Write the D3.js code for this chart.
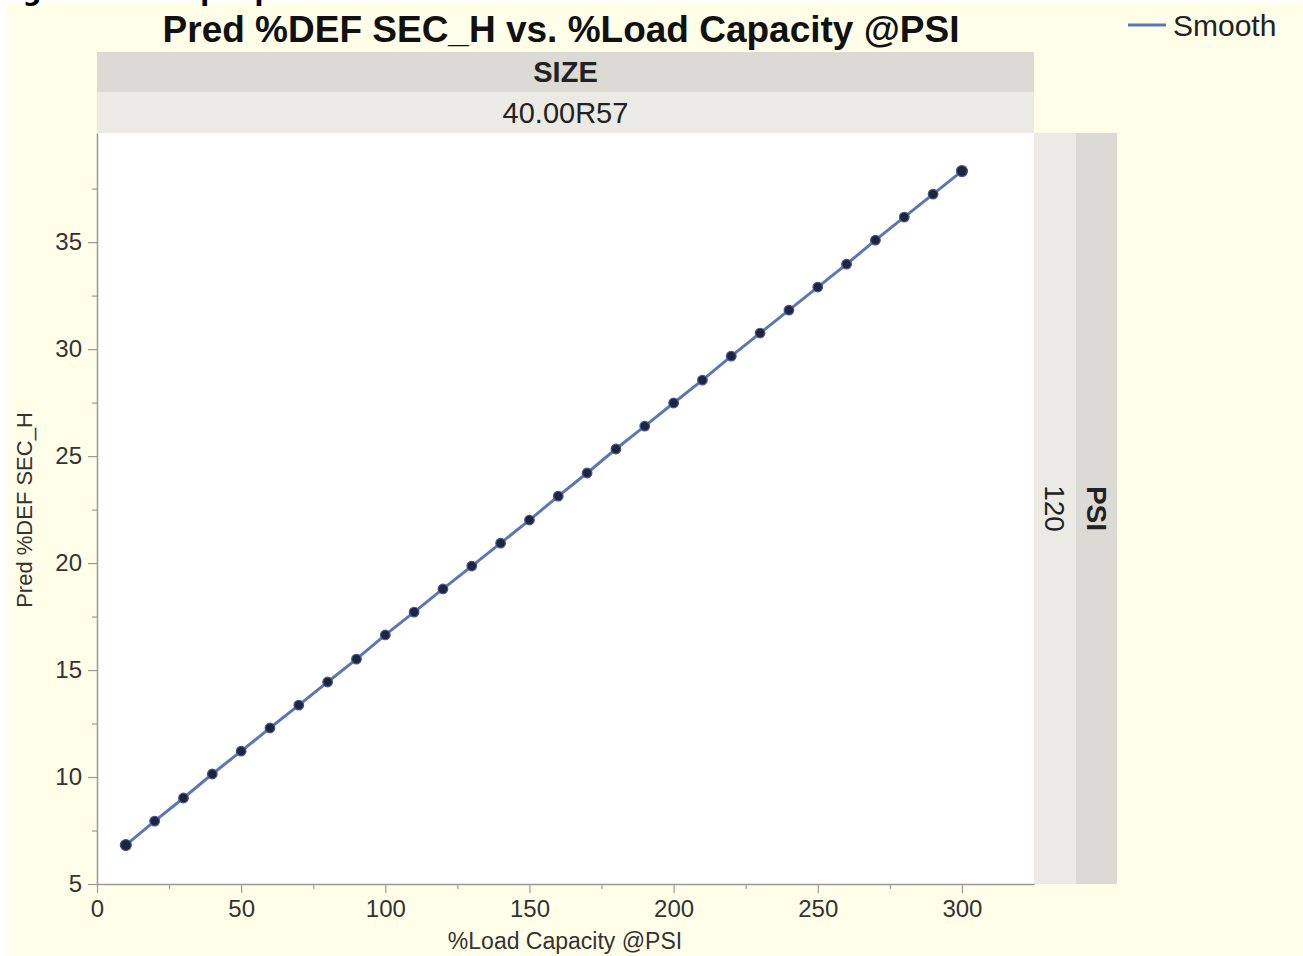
<!DOCTYPE html>
<html>
<head>
<meta charset="utf-8">
<script src="https://cdn.jsdelivr.net/npm/d3@7"></script>
<style>
  html, body { margin: 0; padding: 0; background: #ffffff; }
  svg { display: block; font-family: "Liberation Sans", Arial, sans-serif; }
</style>
</head>
<body>
<svg id="chart" width="1303" height="956"></svg>
<script>
// Predicted %DEF SEC_H at each %Load Capacity step (SIZE 40.00R57, PSI 120)
const loadCapacity = [10, 20, 30, 40, 50, 60, 70, 80, 90, 100, 110, 120, 130, 140, 150,
                      160, 170, 180, 190, 200, 210, 220, 230, 240, 250, 260, 270, 280, 290, 300];
const predDef = [6.82, 7.94, 9.02, 10.14, 11.21, 12.29, 13.36, 14.44, 15.51, 16.64,
                 17.71, 18.79, 19.86, 20.93, 22.01, 23.13, 24.21, 25.33, 26.40, 27.48,
                 28.55, 29.67, 30.75, 31.82, 32.90, 33.97, 35.09, 36.17, 37.24, 38.32];
const xTicks = [0, 50, 100, 150, 200, 250, 300];
const yTicks = [5, 10, 15, 20, 25, 30, 35];
const sizeLevel = "40.00R57";
const psiLevel = "120";

const svg = d3.select("#chart");

// page background
svg.append("rect").attr("x", 0).attr("y", 0).attr("width", 1303).attr("height", 956).attr("fill", "#ffffff");
svg.append("rect").attr("x", 7).attr("y", 4).attr("width", 1296).attr("height", 952).attr("fill", "#fffee8");

// caption line above, only its lower edge inside the frame
svg.append("text").attr("x", -4).attr("y", 0)
  .attr("font-size", 26).attr("font-weight", "bold").attr("fill", "#000")
  .attr("font-family", "'DejaVu Sans', sans-serif")
  .text("Figure 3: Sample plot");

const plot = { left: 97, right: 1034, top: 133, bottom: 884 };

const x = d3.scaleLinear().domain([0, 325]).range([plot.left, plot.right]);
const y = d3.scaleLinear().domain([5, 40.1]).range([plot.bottom, plot.top]);

// plot frame
svg.append("rect")
  .attr("x", plot.left).attr("y", plot.top)
  .attr("width", plot.right - plot.left).attr("height", plot.bottom - plot.top)
  .attr("fill", "#ffffff");

// title
svg.append("text")
  .attr("x", 561).attr("y", 42)
  .attr("text-anchor", "middle")
  .attr("font-size", 37).attr("font-weight", "bold").attr("fill", "#111")
  .text("Pred %DEF SEC_H vs. %Load Capacity @PSI");

// top strips (SIZE)
svg.append("rect").attr("x", plot.left).attr("y", 52).attr("width", plot.right - plot.left).attr("height", 40).attr("fill", "#dcdad4");
svg.append("rect").attr("x", plot.left).attr("y", 92).attr("width", plot.right - plot.left).attr("height", 41).attr("fill", "#ebeae5");
svg.append("text").attr("x", (plot.left + plot.right) / 2).attr("y", 82)
  .attr("text-anchor", "middle").attr("font-size", 29).attr("font-weight", "bold").attr("fill", "#222")
  .text("SIZE");
svg.append("text").attr("x", (plot.left + plot.right) / 2).attr("y", 123)
  .attr("text-anchor", "middle").attr("font-size", 29).attr("fill", "#222")
  .text(sizeLevel);

// right strips (PSI)
svg.append("rect").attr("x", plot.right).attr("y", plot.top).attr("width", 42).attr("height", plot.bottom - plot.top).attr("fill", "#ebeae5");
svg.append("rect").attr("x", plot.right + 42).attr("y", plot.top).attr("width", 41).attr("height", plot.bottom - plot.top).attr("fill", "#dcdad4");
const midY = (plot.top + plot.bottom) / 2;
svg.append("text")
  .attr("transform", `translate(${plot.right + 11},${midY}) rotate(90)`)
  .attr("text-anchor", "middle").attr("font-size", 28).attr("fill", "#222")
  .text(psiLevel);
svg.append("text")
  .attr("transform", `translate(${plot.right + 53},${midY}) rotate(90)`)
  .attr("text-anchor", "middle").attr("font-size", 28).attr("font-weight", "bold").attr("fill", "#222")
  .text("PSI");

// axes
const axisColor = "#9a9a9a";
const xMinor = d3.range(25, 325, 50);
const yMinor = d3.range(7.5, 40, 5);

const gx = svg.append("g").attr("transform", `translate(0,${plot.bottom})`);
gx.call(d3.axisBottom(x).tickValues(xTicks).tickSize(9).tickSizeOuter(0).tickPadding(7));
gx.append("g").call(d3.axisBottom(x).tickValues(xMinor).tickSize(5).tickFormat(""));
gx.selectAll("path.domain").attr("stroke", axisColor).attr("stroke-width", 1.5);
gx.selectAll("line").attr("stroke", axisColor).attr("stroke-width", 1.2);
gx.selectAll("text").attr("font-size", 24).attr("fill", "#333").attr("font-family", "'Liberation Sans', Arial, sans-serif");
gx.selectAll("g g path.domain").remove();

const gy = svg.append("g").attr("transform", `translate(${plot.left},0)`);
gy.call(d3.axisLeft(y).tickValues(yTicks).tickSize(9).tickSizeOuter(0).tickPadding(6));
gy.append("g").call(d3.axisLeft(y).tickValues(yMinor).tickSize(5).tickFormat(""));
gy.selectAll("path.domain").attr("stroke", axisColor).attr("stroke-width", 1.5);
gy.selectAll("line").attr("stroke", axisColor).attr("stroke-width", 1.2);
gy.selectAll("text").attr("font-size", 24).attr("fill", "#333").attr("font-family", "'Liberation Sans', Arial, sans-serif");
gy.selectAll("g g path.domain").remove();

// axis titles
svg.append("text")
  .attr("x", 565).attr("y", 949)
  .attr("text-anchor", "middle").attr("font-size", 23).attr("fill", "#333")
  .text("%Load Capacity @PSI");
svg.append("text")
  .attr("transform", `translate(32,${510}) rotate(-90)`)
  .attr("text-anchor", "middle").attr("font-size", 22).attr("fill", "#333")
  .text("Pred %DEF SEC_H");

// smooth line and points
const pts = loadCapacity.map((v, i) => [v, predDef[i]]);
svg.append("path")
  .datum(pts)
  .attr("fill", "none")
  .attr("stroke", "#5a78b5")
  .attr("stroke-width", 3)
  .attr("d", d3.line().x(d => x(d[0])).y(d => y(d[1])));

svg.append("g").selectAll("circle")
  .data(pts)
  .join("circle")
  .attr("cx", d => x(d[0]))
  .attr("cy", d => y(d[1]))
  .attr("r", (d, i) => (i === 0 || i === pts.length - 1) ? 5.5 : 4.8)
  .attr("fill", "#1d2540")
  .attr("stroke", "#46568a")
  .attr("stroke-width", 1.2);

// legend
svg.append("line").attr("x1", 1128).attr("x2", 1166).attr("y1", 25).attr("y2", 25)
  .attr("stroke", "#5a78b5").attr("stroke-width", 3);
svg.append("text").attr("x", 1173).attr("y", 36)
  .attr("font-size", 30).attr("fill", "#222")
  .text("Smooth");
</script>
</body>
</html>
